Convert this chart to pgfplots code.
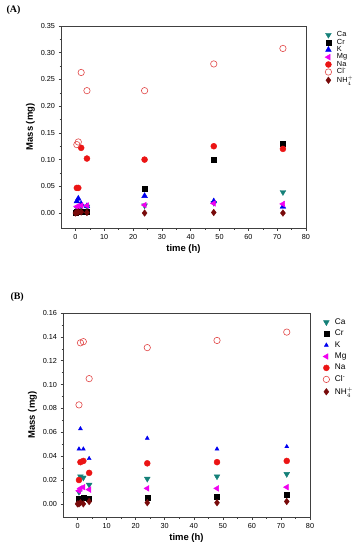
\documentclass[border=0pt]{standalone}
\usepackage{fontspec}
\setmainfont{Liberation Sans}
\newfontfamily\serifA{Liberation Serif}
\usepackage{pgfplots}
\pgfplotsset{compat=1.18}
\definecolor{caC}{RGB}{20,128,120}
\definecolor{kC}{RGB}{0,0,240}
\definecolor{mgC}{RGB}{240,0,240}
\definecolor{naC}{RGB}{235,20,20}
\definecolor{clC}{RGB}{225,70,70}
\definecolor{nhC}{RGB}{120,10,10}
\pgfplotsset{
  myax/.style={
    scale only axis,
    xmin=-5, xmax=80,
    xtick={0,10,...,80},
    minor x tick num=1,
    minor y tick num=1,
    axis line style={draw=black!75, line width=0.6pt},
    tick pos=left, tick align=outside,
    major tick length=2.5bp, minor tick length=1.5bp,
    every tick/.style={black!75, line width=0.5pt},
    tick label style={font=\fontsize{7.3}{8}\selectfont},
    /pgf/number format/assume math mode=true,
    scaled y ticks=false,
    yticklabel style={/pgf/number format/.cd, fixed, fixed zerofill, precision=2},
    xlabel={\textbf{time (h)}},
    ylabel={\textbf{Mass (mg)}},
    label style={font=\fontsize{9.5}{10}\selectfont},
    legend style={draw=none, fill=none, anchor=north west,
      nodes={inner sep=0.4pt},
      /tikz/every odd column/.append style={column sep=5pt}},
    legend cell align=left,
  },
  ca/.style={only marks, mark=triangle*, mark size=3.3bp, color=caC, mark options={rotate=180, fill=caC, draw=caC}},
  cr/.style={only marks, mark=square*, mark size=2.5bp, color=black, mark options={fill=black, draw=black}},
  kk/.style={only marks, mark=triangle*, mark size=3.3bp, color=kC, mark options={fill=kC, draw=kC}},
  mg/.style={only marks, mark=triangle*, mark size=3.3bp, color=mgC, mark options={rotate=90, fill=mgC, draw=mgC}},
  na/.style={only marks, mark=*, mark size=3bp, color=naC, mark options={fill=naC, draw=naC}},
  cl/.style={only marks, mark=o, mark size=3.2bp, color=clC, mark options={draw=clC, line width=0.6pt, solid}},
  nh/.style={only marks, mark=diamond*, mark size=3.3bp, color=nhC, mark options={fill=nhC, draw=nhC}},
}
\begin{document}
\begin{tikzpicture}[x=1bp,y=1bp]
\useasboundingbox (0,0) rectangle (362,-550);
\node[anchor=west, font=\serifA\bfseries\fontsize{10}{11}\selectfont] at (3,-10) {(A)};
\node[anchor=west, font=\serifA\bfseries\fontsize{10}{11}\selectfont] at (7,-297) {(B)};
\begin{axis}[myax, at={(61bp,-228bp)}, anchor=south west,
  width=245bp, height=202bp,
  ymin=-0.028, ymax=0.35, ytick={0,0.05,...,0.351},
  legend style={at={(1.065,0.985)}, row sep=0pt, font=\fontsize{7.4}{8}\selectfont},
  xlabel style={yshift=1bp}, ylabel style={yshift=-1bp}]
\addplot[ca] coordinates {(0.5,0.010) (1,0.010) (2,0.012) (4,0.012) (24,0.014) (48,0.019) (72,0.039)};
\addlegendentry{Ca}
\addplot[cr] coordinates {(0,0.000) (0.5,0.002) (1,0.003) (2,0.003) (4,0.003) (24,0.045) (48,0.100) (72,0.129)};
\addlegendentry{Cr}
\addplot[kk] coordinates {(0.5,0.022) (1,0.027) (2,0.017) (4,0.013) (24,0.032) (48,0.022) (72,0.012)};
\addlegendentry{K}
\addplot[mg] coordinates {(0.5,0.012) (1,0.013) (2,0.014) (4,0.014) (24,0.015) (48,0.018) (72,0.017)};
\addlegendentry{Mg}
\addplot[na] coordinates {(0.5,0.047) (1,0.047) (2,0.122) (4,0.102) (24,0.100) (48,0.125) (72,0.120)};
\addlegendentry{Na}
\addplot[cl] coordinates {(0.5,0.128) (1,0.133) (2,0.263) (4,0.229) (24,0.229) (48,0.279) (72,0.308)};
\addlegendentry{Cl\textsuperscript{-}}
\addplot[nh] coordinates {(0,0.000) (0.5,0.001) (1,0.002) (2,0.002) (4,0.001) (24,0.000) (48,0.001) (72,0.000)};
\addlegendentry{NH$_4^+$}
\end{axis}
\begin{axis}[myax, at={(63bp,-517bp)}, anchor=south west,
  width=247bp, height=204bp,
  ymin=-0.011, ymax=0.16, ytick={0,0.02,...,0.161},
  legend style={at={(1.04,0.985)}, row sep=3.4pt, font=\fontsize{8.3}{9}\selectfont},
  xlabel style={yshift=1bp}, ylabel style={yshift=-1bp}]
\addplot[ca] coordinates {(0.5,0.010) (1,0.023) (2,0.022) (4,0.016) (24,0.021) (48,0.023) (72,0.025)};
\addlegendentry{Ca}
\addplot[cr] coordinates {(0.5,0.004) (1,0.004) (2,0.005) (4,0.004) (24,0.005) (48,0.006) (72,0.008)};
\addlegendentry{Cr}
\addplot[kk, mark size=2.3bp] coordinates {(0.5,0.046) (1,0.063) (2,0.046) (4,0.038) (24,0.055) (48,0.046) (72,0.048)};
\addlegendentry{K}
\addplot[mg] coordinates {(0.5,0.011) (1,0.013) (2,0.014) (4,0.012) (24,0.013) (48,0.013) (72,0.014)};
\addlegendentry{Mg}
\addplot[na] coordinates {(0.5,0.020) (1,0.035) (2,0.036) (4,0.026) (24,0.034) (48,0.035) (72,0.036)};
\addlegendentry{Na}
\addplot[cl] coordinates {(0.5,0.083) (1,0.135) (2,0.136) (4,0.105) (24,0.131) (48,0.137) (72,0.144)};
\addlegendentry{Cl\textsuperscript{-}}
\addplot[nh] coordinates {(0,0.000) (0.5,0.000) (1,0.001) (2,0.000) (4,0.002) (24,0.001) (48,0.001) (72,0.002)};
\addlegendentry{NH$_4^+$}
\end{axis}
\end{tikzpicture}
\end{document}
